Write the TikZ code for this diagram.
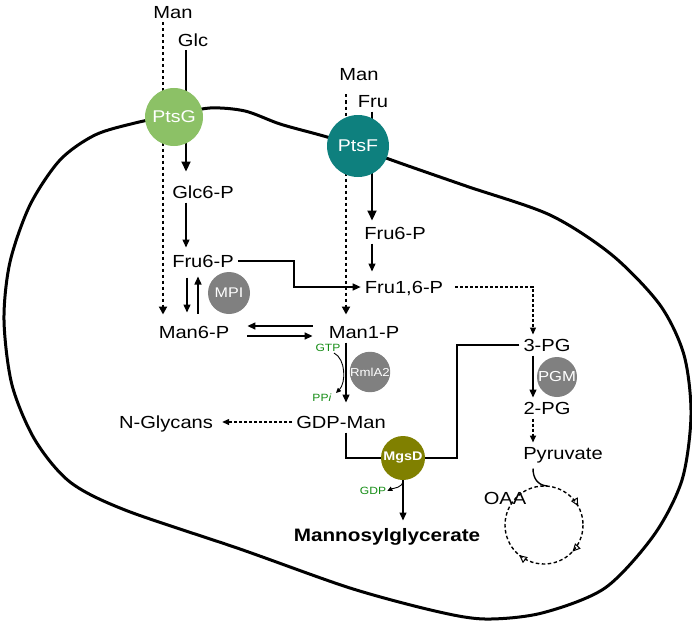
\documentclass[tikz,border=0pt]{standalone}
\usepackage{fontspec}
\setmainfont{Liberation Sans}[FakeStretch=1.15]
\usetikzlibrary{arrows.meta, positioning, backgrounds, decorations.markings}
\definecolor{ptsgreen}{RGB}{140,193,102}
\definecolor{ptsteal}{RGB}{14,128,126}
\definecolor{enzgray}{RGB}{128,128,128}
\definecolor{mgsolive}{RGB}{128,128,0}
\definecolor{cofgreen}{RGB}{20,140,20}

\begin{document}
\begin{tikzpicture}[x=1pt, y=-1pt]
		\tikzstyle{Met} = [inner sep=4pt, text height=12.6pt, text depth=0pt, font=\fontsize{17.5}{20}\selectfont]
		\tikzstyle{Cof} = [inner sep=1pt, text height=7.6pt, text depth=0pt, text=cofgreen, font=\fontsize{10.5}{12}\selectfont]
		\tikzstyle{Enz} = [circle, inner sep=0pt, text=white, fill=enzgray, font=\fontsize{14}{16}\selectfont]
		\tikzstyle{line} = [line width=1.4pt]
		\tikzstyle{arrow} = [line width=1.4pt, -{Triangle[length=8pt,width=7pt]}]
		\tikzstyle{bigarrow} = [line width=2.2pt, -{Triangle[length=10pt,width=9pt]}]
		\tikzstyle{smallarrow} = [line width=0.9pt, -{Triangle[length=5pt,width=4.5pt]}]
		\tikzstyle{dotarrow} = [line width=2.2pt, dash pattern=on 3pt off 3pt, -{Triangle[length=8pt,width=8pt]}]
		\tikzstyle{dasharrow} = [line width=1.2pt, dash pattern=on 3pt off 2pt, -{Triangle[length=7pt,width=6pt]}]
		\tikzstyle{Membrane} = [line width=3pt, line join=round]
		\tikzstyle{TCA} = [line width=1.4pt, dash pattern=on 3.5pt off 2.5pt, postaction={decorate},
			decoration={markings,
				mark=at position 0.12 with {\arrow{Triangle[open,length=8pt,width=7.5pt,line width=1pt]}},
				mark=at position 0.36 with {\arrow{Triangle[open,length=8pt,width=7.5pt,line width=1pt]}},
				mark=at position 0.92 with {\arrow{Triangle[open,length=8pt,width=7.5pt,line width=1pt]}}}]
		
		\useasboundingbox (0,0) rectangle (692,623);
		
		% left uptake
		\node (manA) [Met] at (173,12) {Man};
		\node (glc) [Met] at (193,40) {Glc};
		\node (ptsG) [Enz, fill=ptsgreen, minimum size=58pt, font=\fontsize{17}{20}\selectfont] at (174,117) {PtsG};
		\node (glc6) [Met] at (203,192) {Glc6-P};
		\node (fru6a) [Met] at (203,261) {Fru6-P};
		\node (mpi) [Enz, minimum size=42pt] at (229,293) {MPI};
		\node (man6) [Met] at (194,332) {Man6-P};
		
		% right uptake
		\node (manB) [Met] at (359,74) {Man};
		\node (fru) [Met] at (373,101) {Fru};
		\node (ptsF) [Enz, fill=ptsteal, minimum size=62pt, font=\fontsize{17}{20}\selectfont] at (358,146) {PtsF};
		\node (fru6b) [Met] at (395,233) {Fru6-P};
		\node (fru16) [Met] at (404,287) {Fru1,6-P};
		\node (man1) [Met] at (364,332) {Man1-P};
		
		% GDP-mannose branch
		\node (rmla) [Enz, minimum size=40pt, font=\fontsize{11.5}{13}\selectfont] at (370,372) {RmlA2};
		\node (gtp) [Cof] at (328,348) {GTP};
		\node (ppi) [Cof] at (322,398) {PP\textit{i}};
		\node (gdpman) [Met] at (341,422) {GDP-Man};
		\node (nglyc) [Met] at (166,422) {N-Glycans};
		\node (mgsd) [Enz, fill=mgsolive, minimum size=44pt, font=\fontsize{12.5}{14}\selectfont\bfseries] at (403,458) {MgsD};
		\node (gdp) [Cof] at (373,491) {GDP};
		\node (mgly) [Met, font=\fontsize{18}{20}\selectfont\bfseries] at (387,535) {Mannosylglycerate};
		
		% glycolysis
		\node (pg3) [Met] at (547,345) {3-PG};
		\node (pgm) [Enz, minimum size=40pt, font=\fontsize{14.5}{16}\selectfont] at (557,377) {PGM};
		\node (pg2) [Met] at (547,408) {2-PG};
		\node (pyr) [Met] at (563,453) {Pyruvate};
		\node (oaa) [Met] at (505,498) {OAA};
		
		\coordinate (xManA) at (163,0);
		\coordinate (xG) at (186,0);
		\coordinate (xDn) at (187,0);
		\coordinate (xUp) at (198,0);
		\coordinate (kink) at (294,0);
		\coordinate (xManB) at (346,0);
		\coordinate (xF) at (372,0);
		\coordinate (xR) at (457,0);
		\coordinate (xPG) at (533,0);
		\coordinate (tcaTop) at (547,486);
		
		\begin{scope}[on background layer]
			\draw[Membrane] plot[smooth cycle, tension=0.5] coordinates {
				(174,115) (135,123) (95,135) (60,160) (30,205) (10,262) (4,320) (12,385)
				(35,440) (70,482) (125,510) (240,549) (350,588) (435,611) (485,619)
				(542,613) (605,588) (654,535) (682,480) (691,415) (684,355) (660,305)
				(612,255) (550,215) (466,186) (386,158) (358,146) (320,135) (280,124)
				(245,111) (210,108)};
			\draw[dotarrow, shorten >=7pt] (xManA |- manA.south) -- (xManA |- man6.north);
			\draw[dotarrow, shorten <=10pt, shorten >=7pt] (xManB |- manB.south) -- (xManB |- man1.north);
			\draw[line] (xG |- glc.south) -- (xG |- ptsG.center);
			\draw[bigarrow, shorten >=10pt] (xG |- ptsG.center) -- (xG |- glc6.north);
			\draw[line] (xF |- fru.south) -- (xF |- ptsF.center);
			\draw[bigarrow, shorten >=2pt] (xF |- ptsF.center) -- (xF |- fru6b.north);
			\draw[line] (xManB |- gdpman.south) |- (mgsd.center);
			\draw[line] (pg3.west) -| (xR |- mgsd.center) -- (mgsd.center);
		\end{scope}
		
		\draw[arrow, shorten >=3pt] (xG |- glc6.south) -- (xG |- fru6a.north);
		\draw[arrow, shorten <=6pt, shorten >=9pt] (xDn |- fru6a.south) -- (xDn |- man6.north);
		\draw[arrow, shorten <=8pt, shorten >=5pt] (xUp |- man6.north) -- (xUp |- fru6a.south);
		\draw[arrow] ([xshift=-12pt,yshift=6pt]man1.west) -- ([xshift=14pt,yshift=6pt]man6.east);
		\draw[arrow] ([xshift=14pt,yshift=-4pt]man6.east) -- ([xshift=-12pt,yshift=-4pt]man1.west);
		\draw[arrow, shorten >=5pt] (xF |- fru6b.south) -- (xF |- fru16.north);
		\draw[arrow] (fru6a.east) -| (kink |- fru16.west) -- (fru16.west);
		\draw[dasharrow, shorten <=8pt] (fru16.east) -| (xPG |- pg3.north);
		\draw[arrow] (xPG |- pg3.south) -- (xPG |- pg2.north);
		\draw[dasharrow, line width=1.6pt] (xPG |- pg2.south) -- (xPG |- pyr.north);
		\draw[line, shorten <=5pt] (xPG |- pyr.south) .. controls +(0,14) and +(-10,-1) .. (tcaTop);
		\draw[TCA] (544,525) circle (39);
		
		\draw[arrow, shorten >=9pt] (xManB |- man1.south) -- (xManB |- gdpman.north);
		\draw[smallarrow] ([xshift=6pt]gtp.south) .. controls +(12,6) and +(10,-10) .. ([xshift=14pt]ppi.north);
		\draw[dasharrow, shorten >=5pt] (gdpman.west) -- (nglyc.east);
		\draw[arrow, shorten >=4pt] (mgsd.south) -- (mgsd.south |- mgly.north);
		\draw[smallarrow] (mgsd.south) .. controls +(0,8) and +(6,-3) .. (gdp.east);
\end{tikzpicture}
\end{document}
